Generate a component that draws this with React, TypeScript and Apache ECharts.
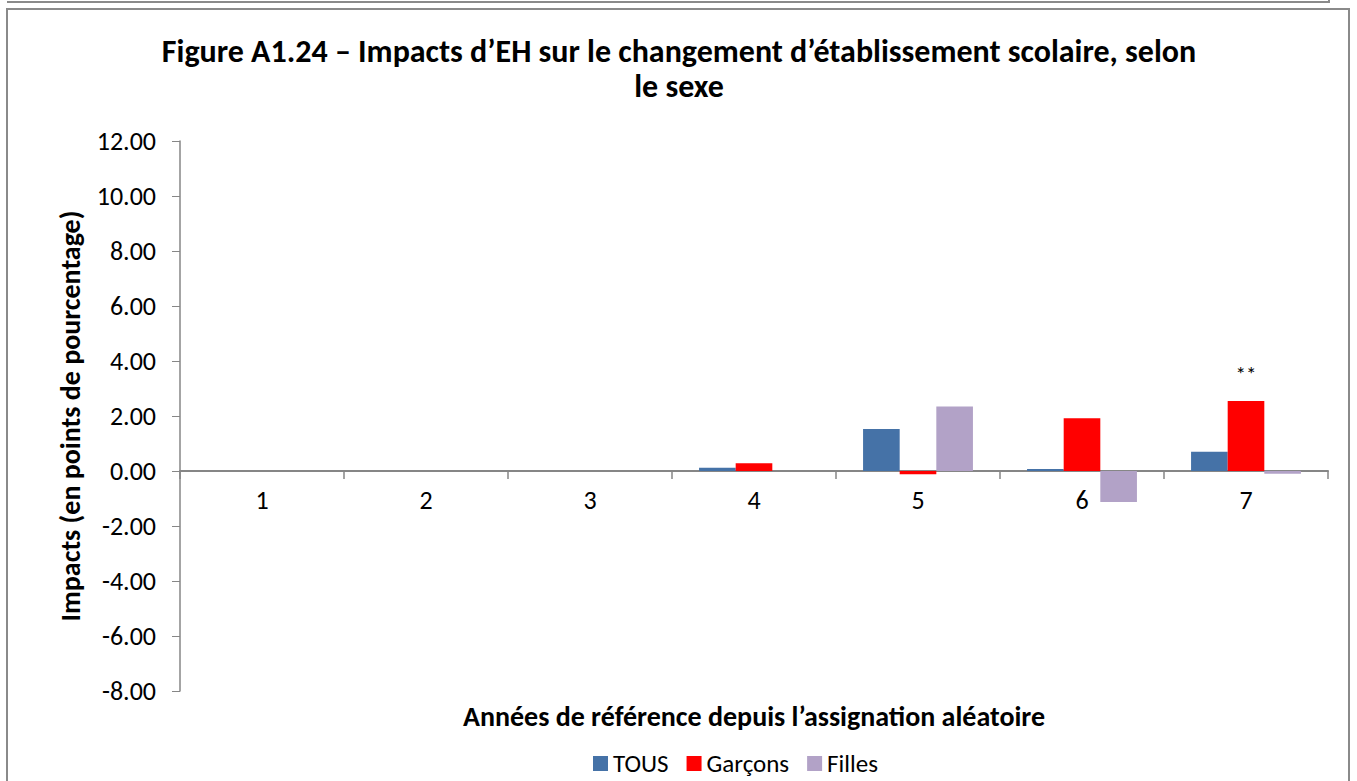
import React, { useEffect, useRef } from "react";
import * as echarts from "echarts";

const categories = ["1", "2", "3", "4", "5", "6", "7"];
const tous = [null, null, null, 0.12, 1.53, 0.07, 0.7];
const garcons = [null, null, null, 0.28, -0.12, 1.92, 2.55];
const filles = [null, null, null, null, 2.35, -1.13, -0.1];
const garconsSig = ["", "", "", "", "", "", "**"];
const yTicks = { min: -8, max: 12, interval: 2 };
const titleLines = [
  "Figure A1.24 – Impacts d’EH sur le changement d’établissement scolaire, selon",
  "le sexe",
];

const FONT = 'Calibri, Carlito, "Open Sans", "Noto Sans", sans-serif';

export default function App() {
  const ref = useRef<HTMLDivElement>(null);
  useEffect(() => {
    if (!ref.current) return;
    const chart = echarts.init(ref.current, null, { renderer: "svg" });
    chart.setOption({
      animation: false,
      backgroundColor: "#ffffff",
      textStyle: { fontFamily: FONT },
      title: titleLines.map((t, i) => ({
        text: t,
        left: 679,
        textAlign: "center",
        top: 36 + i * 35,
        padding: 0,
        textStyle: { fontFamily: FONT, fontSize: 32, fontWeight: "bold", color: "#000", lineHeight: 30 },
      })),
      legend: {
        bottom: 0,
        left: 588,
        itemWidth: 15,
        itemHeight: 15,
        itemGap: 18,
        icon: "rect",
        textStyle: { fontFamily: FONT, fontSize: 25, color: "#000" },
        data: ["TOUS", "Garçons", "Filles"],
      },
      grid: { left: 180, right: 29, top: 141, bottom: 90, containLabel: false },
      xAxis: {
        type: "category",
        data: categories,
        axisLine: { onZero: true, lineStyle: { color: "#868686", width: 2 } },
        axisTick: { show: true, length: 8, lineStyle: { color: "#868686", width: 1.5 } },
        axisLabel: { fontFamily: FONT, fontSize: 26, color: "#000", margin: -204 },
      },
      yAxis: {
        type: "value",
        min: yTicks.min,
        max: yTicks.max,
        interval: yTicks.interval,
        name: "Impacts (en points de pourcentage)",
        nameLocation: "middle",
        nameGap: 96,
        nameTextStyle: { fontFamily: FONT, fontSize: 28, fontWeight: "bold", color: "#000" },
        axisLine: { show: true, lineStyle: { color: "#868686", width: 1.5 } },
        axisTick: { show: true, length: 8, lineStyle: { color: "#868686" } },
        splitLine: { show: false },
        axisLabel: {
          fontFamily: FONT,
          fontSize: 26,
          color: "#000",
          margin: 24,
          formatter: (v: number) => v.toFixed(2),
        },
      },
      series: [
        {
          name: "TOUS",
          type: "bar",
          data: tous,
          barGap: "0%",
          barCategoryGap: "33%",
          itemStyle: { color: "#4572A7" },
        },
        {
          name: "Garçons",
          type: "bar",
          data: garcons,
          itemStyle: { color: "#FF0000" },
          label: {
            show: true,
            position: "top",
            distance: 16,
            fontFamily: FONT,
            fontSize: 21,
            color: "#000",
            formatter: (p: any) => garconsSig[p.dataIndex] || "",
          },
        },
        {
          name: "Filles",
          type: "bar",
          data: filles,
          itemStyle: { color: "#B2A2C7" },
        },
      ],
      graphic: [
        {
          type: "polyline",
          shape: { points: [[7, 2], [1329, 2], [1329, -5]] },
          style: { stroke: "#8a8a8a", lineWidth: 2, fill: "none" },
          silent: true,
        },
        {
          type: "polyline",
          shape: { points: [[7, 790], [7, 9], [1349, 9], [1349, 790]] },
          style: { stroke: "#8a8a8a", lineWidth: 2, fill: "none" },
          silent: true,
        },
        {
          type: "text",
          x: 754,
          y: 716,
          style: {
            text: "Années de référence depuis l’assignation aléatoire",
            fontFamily: FONT,
            fontSize: 28,
            fontWeight: "bold",
            fill: "#000",
            align: "center",
            verticalAlign: "middle",
          },
        },
      ],
    });
    return () => chart.dispose();
  }, []);
  return (
    <div
      ref={ref}
      style={{ position: "absolute", left: 0, top: 0, width: 1357, height: 781 }}
    />
  );
}
